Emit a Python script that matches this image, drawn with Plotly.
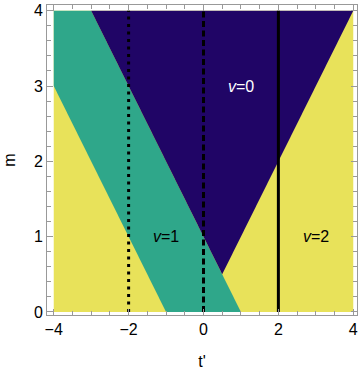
import plotly.graph_objects as go

# Data
box_t = [-4, 4, 4, -4]
box_m = [0, 0, 4, 4]
teal_t = [-4, -1, 1, -3, -4]
teal_m = [3, 0, 0, 4, 4]
navy_t = [-3, 0.5, 4]
navy_m = [4, 0.5, 4]
line_t = [-2, 0, 2]
line_dash = ["3px,4.5px", "6px,3.5px", "solid"]
m_span = [0, 4]
label_text = ["<i>v</i>=0", "<i>v</i>=1", "<i>v</i>=2"]
label_t = [1, -1, 3]
label_m = [3, 1, 1]
label_color = ["white", "black", "black"]

YELLOW = "#E8E25A"
TEAL = "#2FA78A"
NAVY = "#200566"
FRAME = "#999999"
FONT = "Liberation Sans, Arial, sans-serif"

fig = go.Figure()
fig.add_trace(go.Scatter(x=box_t, y=box_m, fill="toself", fillcolor=YELLOW,
                         mode="none", hoverinfo="skip"))
fig.add_trace(go.Scatter(x=teal_t, y=teal_m, fill="toself", fillcolor=TEAL,
                         mode="none", hoverinfo="skip"))
fig.add_trace(go.Scatter(x=navy_t, y=navy_m, fill="toself", fillcolor=NAVY,
                         mode="none", hoverinfo="skip"))
for t, d in zip(line_t, line_dash):
    fig.add_trace(go.Scatter(x=[t, t], y=m_span, mode="lines",
                             line=dict(color="black", width=3, dash=d),
                             hoverinfo="skip"))

for txt, t, m, c in zip(label_text, label_t, label_m, label_color):
    fig.add_annotation(x=t, y=m, text=txt, showarrow=False,
                       font=dict(family=FONT, size=16, color=c))

axis_common = dict(showgrid=False, zeroline=False, showline=True, linecolor=FRAME,
                   linewidth=1, mirror="allticks", ticks="inside", ticklen=6,
                   tickcolor=FRAME, tickwidth=1, automargin=False,
                   tickfont=dict(family=FONT, size=16, color="black"))

fig.update_xaxes(range=[-4.18, 4.10], tickmode="linear", tick0=-4, dtick=2,
                 minor=dict(dtick=0.5, ticks="inside", ticklen=4, tickcolor=FRAME),
                 title=dict(text="t'", font=dict(family=FONT, size=16, color="black"),
                            standoff=18),
                 **axis_common)
fig.update_yaxes(range=[-0.04, 4.076], tickmode="linear", tick0=0, dtick=1,
                 minor=dict(dtick=0.2, ticks="inside", ticklen=4, tickcolor=FRAME),
                 title=dict(text="m", font=dict(family=FONT, size=16, color="black"),
                            standoff=14),
                 **axis_common)

fig.update_layout(width=360, height=375, showlegend=False,
                  margin=dict(l=47, r=3, t=5, b=60),
                  paper_bgcolor="white", plot_bgcolor="white")

fig.write_html("out.html",
               config={"displayModeBar": False, "staticPlot": True},
               post_script="document.body.style.margin='0';"
                           "document.body.style.overflow='hidden';")
